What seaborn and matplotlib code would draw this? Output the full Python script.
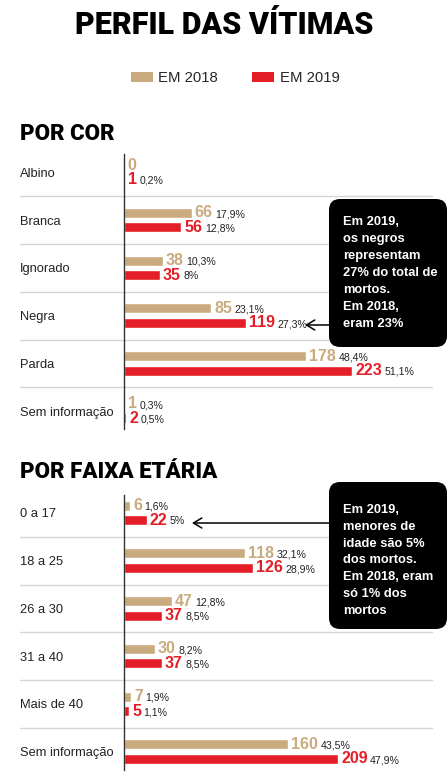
"""
Perfil das vítimas: vítimas por cor e por faixa etária, 2018 x 2019
"""

import pandas as pd
import matplotlib
matplotlib.use("Agg")
import matplotlib.pyplot as plt
import matplotlib.transforms as mtransforms
from matplotlib.patches import FancyBboxPatch, Patch
import seaborn as sns

W, H, DPI = 448, 777, 100

# ---------------------------------------------------------------------------
# Dados
# ---------------------------------------------------------------------------
years = ["EM 2018", "EM 2019"]
colors = ["#c9ab7f", "#e31e26"]

cor_labels = ["Albino", "Branca", "Ignorado", "Negra", "Parda", "Sem informação"]
cor_2018 = [0, 66, 38, 85, 178, 1]
cor_2019 = [1, 56, 35, 119, 223, 2]
cor_pct_2018 = ["", "17,9%", "10,3%", "23,1%", "48,4%", "0,3%"]
cor_pct_2019 = ["0,2%", "12,8%", "8%", "27,3%", "51,1%", "0,5%"]

idade_labels = ["0 a 17", "18 a 25", "26 a 30", "31 a 40", "Mais de 40", "Sem informação"]
idade_2018 = [6, 118, 47, 30, 7, 160]
idade_2019 = [22, 126, 37, 37, 5, 209]
idade_pct_2018 = ["1,6%", "32,1%", "12,8%", "8,2%", "1,9%", "43,5%"]
idade_pct_2019 = ["5%", "28,9%", "8,5%", "8,5%", "1,1%", "47,9%"]

nota_cor = ["Em 2019,", "os negros", "representam", "27% do total de",
            "mortos.", "Em 2018,", "eram 23%"]
nota_idade = ["Em 2019,", "menores de", "idade são 5%", "dos mortos.",
              "Em 2018, eram", "só 1% dos", "mortos"]

# ---------------------------------------------------------------------------
sns.set_theme(style="white")
plt.rcParams["font.family"] = ["Liberation Sans", "DejaVu Sans"]

NUM_FONT = ["Liberation Sans Narrow", "Liberation Sans", "DejaVu Sans"]
HEAVY_FONT = ["Roboto", "Lato", "DejaVu Sans"]

fig = plt.figure(figsize=(W / DPI, H / DPI), dpi=DPI)
fig.patch.set_facecolor("white")


def axes_px(left, top, width, height):
    return fig.add_axes([left / W, 1 - (top + height) / H, width / W, height / H])


def draw_section(ax, labels, v18, v19, p18, p19):
    n = len(labels)
    df = pd.DataFrame({
        "cat": labels * 2,
        "ano": [years[0]] * n + [years[1]] * n,
        "valor": v18 + v19,
    })
    sns.barplot(data=df, y="cat", x="valor", hue="ano", hue_order=years,
                palette=colors, orient="h", width=0.61, gap=0.31,
                saturation=1, legend=False, ax=ax)

    ax.set_xlim(0, 308 / 1.024)
    ax.set_ylim(n - 0.5, -0.5)
    ax.set_xlabel("")
    ax.set_ylabel("")
    ax.set_xticks([])
    ax.tick_params(axis="y", length=0, pad=104 * 72 / DPI, labelsize=9.3,
                   labelcolor="#222222")
    for t in ax.get_yticklabels():
        t.set_ha("left")
    for s in ["top", "right", "bottom"]:
        ax.spines[s].set_visible(False)
    ax.spines["left"].set_color("#333333")
    ax.spines["left"].set_linewidth(1.0)
    ax.spines["left"].set_bounds(-0.38, n - 0.62)

    # separadores entre categorias
    trans = mtransforms.blended_transform_factory(fig.transFigure, ax.transData)
    for i in range(n - 1):
        ax.plot([20 / W, 432 / W], [i + 0.5, i + 0.5], transform=trans,
                color="#d6d6d6", lw=1, clip_on=False, zorder=0)

    # rótulos de valor + percentual
    vals = v18 + v19
    pcts = p18 + p19
    for k, patch in enumerate(ax.patches[:2 * n]):
        col = colors[0] if k < n else colors[1]
        yc = patch.get_y() + patch.get_height() / 2
        txt = ax.annotate(str(vals[k]), xy=(patch.get_width(), yc),
                          xytext=(2.2, 0), textcoords="offset points",
                          va="center", ha="left", color=col,
                          fontsize=11.5, fontweight="bold", family=NUM_FONT)
        if pcts[k]:
            ax.annotate(pcts[k], xy=(1, 0.08), xycoords=txt,
                        xytext=(1.8, 0), textcoords="offset points",
                        va="bottom", ha="left", color="#222222",
                        fontsize=7.6, family=NUM_FONT)


ax1 = axes_px(124, 148.5, 308, 286.5)
draw_section(ax1, cor_labels, cor_2018, cor_2019, cor_pct_2018, cor_pct_2019)

ax2 = axes_px(124, 489, 308, 286.5)
draw_section(ax2, idade_labels, idade_2018, idade_2019, idade_pct_2018, idade_pct_2019)

# títulos
fig.text(224 / W, 1 - 25 / H, "PERFIL DAS VÍTIMAS", ha="center", va="center",
         fontsize=22, fontweight="black", family=HEAVY_FONT, color="black")
fig.text(20 / W, 1 - 134 / H, "POR COR", ha="left", va="center",
         fontsize=16, fontweight="black", family=HEAVY_FONT, color="black")
fig.text(20 / W, 1 - 472 / H, "POR FAIXA ETÁRIA", ha="left", va="center",
         fontsize=16, fontweight="black", family=HEAVY_FONT, color="black")

# legenda
handles = [Patch(facecolor=c, edgecolor="none", label=l) for c, l in zip(colors, years)]
fig.legend(handles=handles, loc="center", bbox_to_anchor=(235 / W, 1 - 78 / H),
           ncol=2, frameon=False, fontsize=10.7, handlelength=1.5,
           handleheight=0.7, handletextpad=0.35, columnspacing=2.3,
           borderaxespad=0, borderpad=0)


# caixas de nota
def note_box(top, bottom, lines, first_y, step, arrow_y, arrow_x):
    box = FancyBboxPatch((329, H - bottom), 118, bottom - top,
                         boxstyle="round,pad=0,rounding_size=11",
                         transform=mtransforms.IdentityTransform(),
                         facecolor="black", edgecolor="none", zorder=5)
    fig.add_artist(box)
    for i, line in enumerate(lines):
        fig.text(343 / W, 1 - (first_y + i * step) / H, line, ha="left",
                 va="center", color="white", fontsize=9.3, fontweight="bold",
                 zorder=6)
    fig.add_artist(matplotlib.text.Annotation(
        "", xy=(arrow_x, H - arrow_y), xycoords="figure pixels",
        xytext=(329, H - arrow_y), textcoords="figure pixels",
        arrowprops=dict(arrowstyle="->,head_length=0.5,head_width=0.3",
                        color="black", lw=1.1, shrinkA=0, shrinkB=0)))


note_box(199, 347, nota_cor, 222, 17, 325, 305)
note_box(482, 629, nota_idade, 510, 16.8, 523, 192)

fig.savefig("out.png", dpi=DPI)
